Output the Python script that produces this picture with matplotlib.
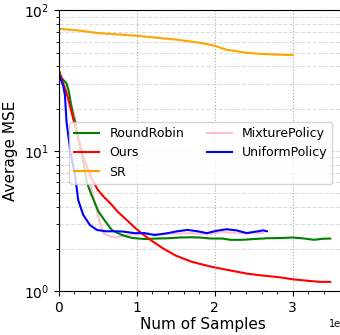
import matplotlib
matplotlib.use('Agg')
import matplotlib.pyplot as plt
from matplotlib.ticker import AutoMinorLocator

# values (x in units of 1e6 samples)
rr_x = [0, 0.02, 0.04, 0.07, 0.1, 0.13, 0.16, 0.19, 0.21, 0.25, 0.3, 0.36, 0.42, 0.51, 0.6, 0.68,
        0.79, 0.88, 0.95, 1.1, 1.25, 1.4, 1.55, 1.7, 1.81, 1.95, 2.1, 2.2, 2.35, 2.5, 2.67, 2.85,
        3.0, 3.15, 3.27, 3.38, 3.48]
rr_y = [37.7, 35, 32.9, 31.5, 30.3, 26.5, 21.2, 17.5, 16.2, 12.5, 9.2, 6.0, 4.86, 3.7, 3.14, 2.74,
        2.55, 2.45, 2.4, 2.36, 2.38, 2.39, 2.42, 2.43, 2.42, 2.38, 2.38, 2.33, 2.33, 2.36, 2.39, 2.4,
        2.42, 2.38, 2.33, 2.37, 2.38]

ours_x = [0, 0.04, 0.08, 0.12, 0.157, 0.2, 0.25, 0.3, 0.36, 0.42, 0.5, 0.58, 0.66, 0.75, 0.87,
          0.99, 1.1, 1.2, 1.34, 1.5, 1.7, 1.85, 1.98, 2.2, 2.41, 2.6, 2.84, 3.0, 3.2, 3.35, 3.48]
ours_y = [37.7, 32, 27.9, 23.7, 19.6, 15.8, 12.2, 9.6, 7.8, 6.4, 5.3, 4.7, 4.25, 3.72, 3.23,
          2.8, 2.5, 2.28, 2.02, 1.8, 1.63, 1.55, 1.49, 1.41, 1.34, 1.3, 1.26, 1.22, 1.19, 1.17, 1.17]

sr_x = [0, 0.25, 0.5, 1.0, 1.5, 1.8, 2.0, 2.15, 2.4, 2.6, 3.0]
sr_y = [74, 72, 69, 66, 62, 59, 56, 52.5, 50, 49, 48]

mix_x = [0, 0.04, 0.08, 0.12, 0.16, 0.2, 0.25, 0.3, 0.35, 0.39, 0.45, 0.52, 0.57, 0.65, 0.75, 0.85,
         0.95, 1.1, 1.3, 1.5, 1.7, 1.9, 2.1, 2.3, 2.5, 2.62]
mix_y = [37, 33, 29, 25, 21.5, 18, 13, 9.5, 7.5, 6.5, 4.6, 3.2, 2.6, 2.47, 2.43, 2.5, 2.56, 2.58,
         2.55, 2.58, 2.6, 2.55, 2.65, 2.6, 2.62, 2.6]

uni_x = [0, 0.03, 0.06, 0.08, 0.1, 0.15, 0.21, 0.25, 0.315, 0.4, 0.49, 0.6, 0.7, 0.82, 0.97, 1.1,
         1.23, 1.4, 1.52, 1.65, 1.78, 1.9, 2.02, 2.15, 2.28, 2.41, 2.52, 2.62, 2.67]
uni_y = [34.8, 32, 28.7, 25, 16.2, 9.8, 6.75, 4.48, 3.5, 2.97, 2.74, 2.68, 2.68, 2.67, 2.6, 2.6,
         2.52, 2.6, 2.68, 2.74, 2.68, 2.6, 2.7, 2.77, 2.72, 2.6, 2.66, 2.72, 2.68]

scale = 1e6

fig = plt.figure(figsize=(3.4, 3.35), dpi=100)
ax = fig.add_axes([0.1726, 0.13, 0.849, 0.839])

ax.plot([v * scale for v in rr_x], rr_y, color='green', lw=1.5, label='RoundRobin')
ax.plot([v * scale for v in ours_x], ours_y, color='red', lw=1.5, label='Ours')
ax.plot([v * scale for v in sr_x], sr_y, color='orange', lw=1.5, label='SR')
ax.plot([v * scale for v in mix_x], mix_y, color='pink', lw=1.5, label='MixturePolicy', zorder=1.5)
ax.plot([v * scale for v in uni_x], uni_y, color='blue', lw=1.5, label='UniformPolicy')

ax.set_yscale('log')
ax.set_ylim(1, 100)
ax.set_xlim(0, 3.7e6)
ax.xaxis.set_minor_locator(AutoMinorLocator(5))

ax.grid(which='major', axis='x', linestyle=':', color='#aaaaaa', lw=0.8)
ax.grid(which='both', axis='y', linestyle='--', color='#dddddd', lw=0.8)

ax.tick_params(labelsize=10)
ax.xaxis.get_offset_text().set_fontsize(7)
ax.set_xlabel('Num of Samples', fontsize=11, labelpad=1)
ax.set_ylabel('Average MSE', fontsize=11)

ax.legend(ncol=2, fontsize=9, loc='upper left', bbox_to_anchor=(0.015, 0.625), columnspacing=1.8)

plt.savefig('out.png', dpi=100)
